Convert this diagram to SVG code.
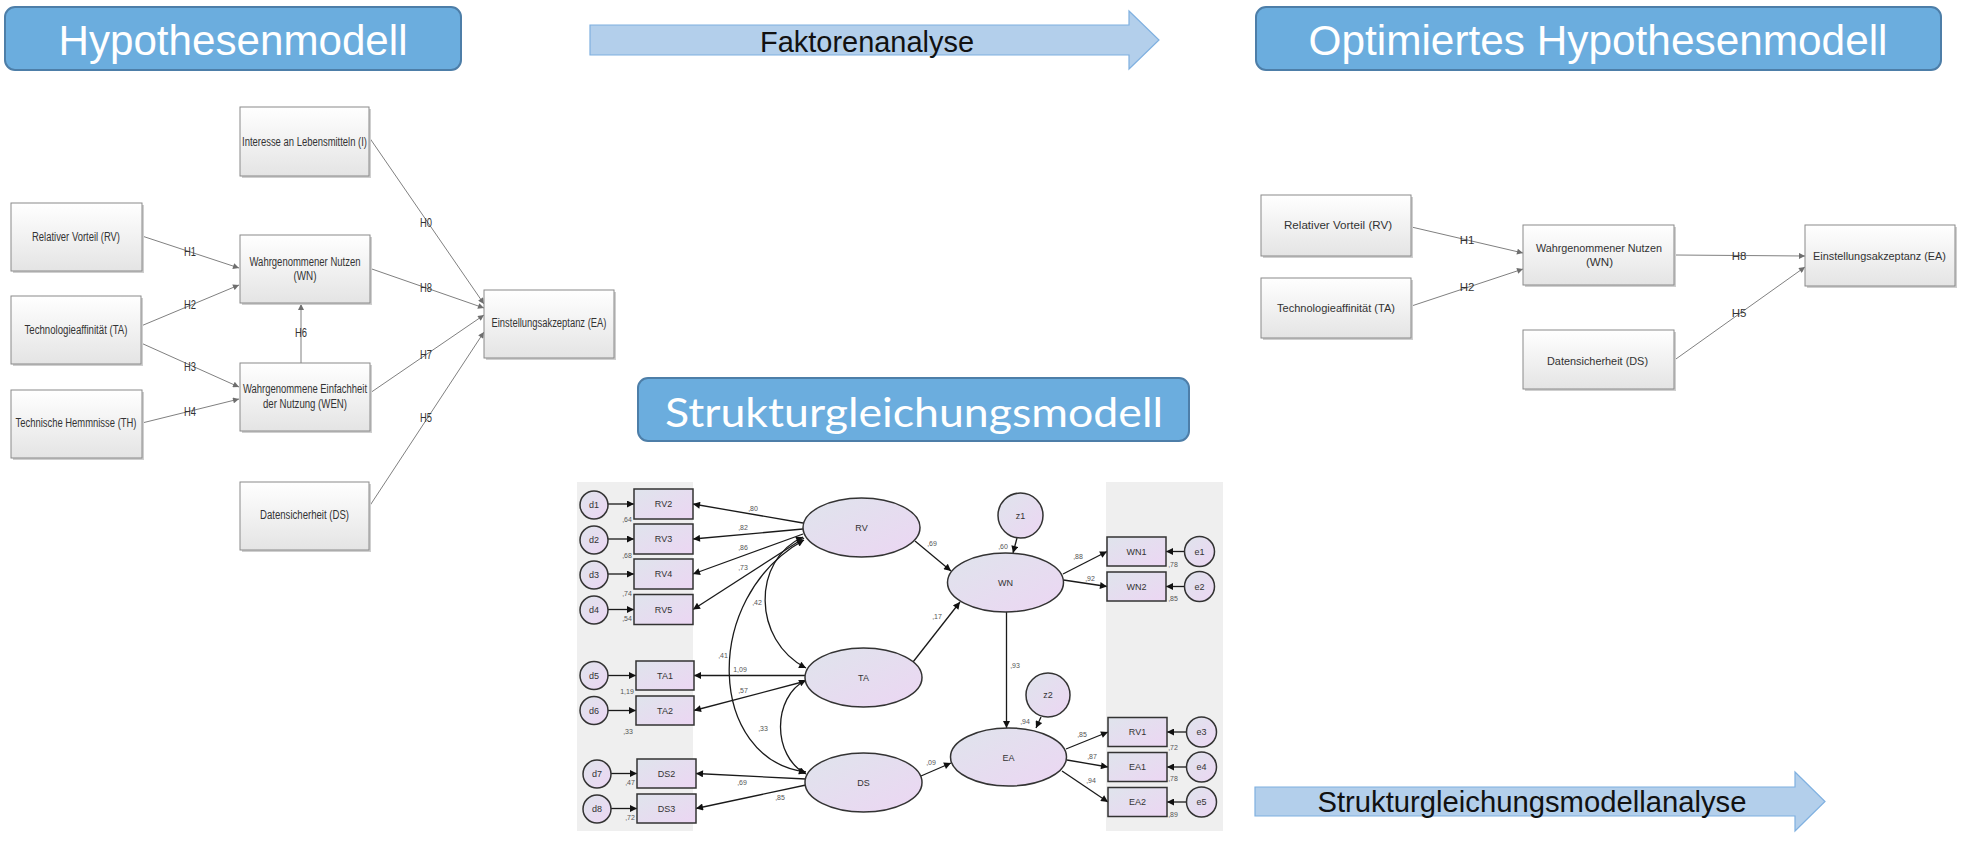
<svg xmlns="http://www.w3.org/2000/svg" width="1961" height="844" viewBox="0 0 1961 844">
<style>
.title{fill:#6badde;stroke:#4d7ea8;stroke-width:2}
.ttxt{font-family:"Liberation Sans",Arial,sans-serif;font-size:42px;fill:#ffffff;text-anchor:middle}
.ttxt2{font-family:Lato,"Open Sans",sans-serif;font-size:41px;fill:#ffffff;text-anchor:middle}
.barrow{fill:#b3cfeb;stroke:#7fb0e0;stroke-width:1.2}
.atxt{font-family:"Liberation Sans",Arial,sans-serif;font-size:29px;fill:#111;text-anchor:middle}
.hbox{fill:url(#hg);stroke:#8a8a8a;stroke-width:1}
.hsh{fill:#cfcfcf}
.htxt{font-family:"Liberation Sans",Arial,sans-serif;font-size:12px;fill:#333;text-anchor:middle}
.otxt{font-family:"Liberation Sans",Arial,sans-serif;font-size:11.5px;fill:#333;text-anchor:middle}
.hedge{stroke:#808080;stroke-width:1;fill:none;marker-end:url(#hArr)}
.panel{fill:#efefef}
.sem{fill:url(#sg);stroke:#333;stroke-width:1.5}
.sedge{stroke:#1a1a1a;stroke-width:1.3;fill:none;marker-end:url(#sArr)}
.scov{stroke:#1a1a1a;stroke-width:1.3;fill:none;marker-end:url(#sArr);marker-start:url(#sArr)}
.stxt{font-family:"Liberation Sans",Arial,sans-serif;font-size:9px;fill:#333;text-anchor:middle}
.ntxt{font-family:"Liberation Sans",Arial,sans-serif;font-size:7px;fill:#555;text-anchor:middle}
</style>
<defs>
<linearGradient id="hg" x1="0" y1="0" x2="0" y2="1"><stop offset="0" stop-color="#ffffff"/><stop offset="1" stop-color="#e4e4e4"/></linearGradient>
<linearGradient id="sg" x1="0" y1="0" x2="1" y2="1"><stop offset="0" stop-color="#dfe4ec"/><stop offset="1" stop-color="#ecd6f3"/></linearGradient>
<marker id="hArr" viewBox="0 0 10 10" refX="10" refY="5" markerWidth="7" markerHeight="6" markerUnits="userSpaceOnUse" orient="auto"><path d="M0,0 L10,5 L0,10 z" fill="#6e6e6e"/></marker>
<marker id="sArr" viewBox="0 0 10 10" refX="10" refY="5" markerWidth="10" markerHeight="7" markerUnits="userSpaceOnUse" orient="auto-start-reverse"><path d="M0,0 L10,5 L0,10 z" fill="#111"/></marker>
</defs>
<rect width="1961" height="844" fill="#ffffff"/>

<!-- Titles -->
<g id="title-hypothesenmodell"><rect class="title" x="5" y="7" width="456" height="63" rx="10"/><text class="ttxt" x="233" y="55" textLength="349" lengthAdjust="spacingAndGlyphs">Hypothesenmodell</text></g>
<g id="title-optimiert"><rect class="title" x="1256" y="7" width="685" height="63" rx="10"/><text class="ttxt" x="1598" y="55" textLength="579" lengthAdjust="spacingAndGlyphs">Optimiertes Hypothesenmodell</text></g>
<g id="title-sem"><rect class="title" x="638" y="378" width="551" height="63" rx="10"/><text class="ttxt2" x="914" y="427" textLength="498" lengthAdjust="spacingAndGlyphs">Strukturgleichungsmodell</text></g>

<!-- Block arrows -->
<g id="arrow-faktorenanalyse"><polygon class="barrow" points="590,25 1129,25 1129,11 1159,40 1129,69 1129,55 590,55"/><text class="atxt" x="867" y="52" textLength="214" lengthAdjust="spacingAndGlyphs">Faktorenanalyse</text></g>
<g id="arrow-sem-analyse"><polygon class="barrow" points="1255,787 1795,787 1795,772 1825,801.5 1795,831 1795,816 1255,816"/><text class="atxt" x="1532" y="812" textLength="429" lengthAdjust="spacingAndGlyphs">Strukturgleichungsmodellanalyse</text></g>

<!-- Hypothesenmodell connectors -->
<g id="h-connectors">
<line class="hedge" x1="142" y1="236" x2="239" y2="268"/>
<line class="hedge" x1="141" y1="326" x2="239" y2="285"/>
<line class="hedge" x1="141" y1="343" x2="239" y2="387"/>
<line class="hedge" x1="142" y1="423" x2="239" y2="399"/>
<line class="hedge" x1="301" y1="363" x2="301" y2="304"/>
<line class="hedge" x1="369" y1="137" x2="484" y2="304"/>
<line class="hedge" x1="369" y1="268" x2="484" y2="308"/>
<line class="hedge" x1="370" y1="393" x2="484" y2="315"/>
<line class="hedge" x1="369" y1="507" x2="484" y2="332"/>
<text class="htxt" x="190" y="256" textLength="12" lengthAdjust="spacingAndGlyphs">H1</text>
<text class="htxt" x="190" y="309" textLength="12" lengthAdjust="spacingAndGlyphs">H2</text>
<text class="htxt" x="190" y="371" textLength="12" lengthAdjust="spacingAndGlyphs">H3</text>
<text class="htxt" x="190" y="416" textLength="12" lengthAdjust="spacingAndGlyphs">H4</text>
<text class="htxt" x="301" y="337" textLength="12" lengthAdjust="spacingAndGlyphs">H6</text>
<text class="htxt" x="426" y="227" textLength="12" lengthAdjust="spacingAndGlyphs">H0</text>
<text class="htxt" x="426" y="292" textLength="12" lengthAdjust="spacingAndGlyphs">H8</text>
<text class="htxt" x="426" y="359" textLength="12" lengthAdjust="spacingAndGlyphs">H7</text>
<text class="htxt" x="426" y="422" textLength="12" lengthAdjust="spacingAndGlyphs">H5</text>
</g>

<!-- Hypothesenmodell nodes -->
<g id="h-I"><rect class="hsh" x="242" y="109" width="129" height="69"/><rect class="hbox" x="240" y="107" width="129" height="69"/><text class="htxt" x="304.5" y="146" textLength="125" lengthAdjust="spacingAndGlyphs">Interesse an Lebensmitteln (I)</text></g>
<g id="h-RV"><rect class="hsh" x="13" y="205" width="131" height="68"/><rect class="hbox" x="11" y="203" width="131" height="68"/><text class="htxt" x="76" y="241" textLength="88" lengthAdjust="spacingAndGlyphs">Relativer Vorteil (RV)</text></g>
<g id="h-WN"><rect class="hsh" x="242" y="237" width="130" height="68"/><rect class="hbox" x="240" y="235" width="130" height="68"/><text class="htxt" x="305" y="266" textLength="111" lengthAdjust="spacingAndGlyphs">Wahrgenommener Nutzen</text><text class="htxt" x="305" y="280" textLength="23" lengthAdjust="spacingAndGlyphs">(WN)</text></g>
<g id="h-TA"><rect class="hsh" x="13" y="298" width="130" height="68"/><rect class="hbox" x="11" y="296" width="130" height="68"/><text class="htxt" x="76" y="334" textLength="103" lengthAdjust="spacingAndGlyphs">Technologieaffinität (TA)</text></g>
<g id="h-WEN"><rect class="hsh" x="242" y="365" width="130" height="68"/><rect class="hbox" x="240" y="363" width="130" height="68"/><text class="htxt" x="305" y="393" textLength="124" lengthAdjust="spacingAndGlyphs">Wahrgenommene Einfachheit</text><text class="htxt" x="305" y="408" textLength="84" lengthAdjust="spacingAndGlyphs">der Nutzung (WEN)</text></g>
<g id="h-TH"><rect class="hsh" x="13" y="392" width="131" height="68"/><rect class="hbox" x="11" y="390" width="131" height="68"/><text class="htxt" x="76" y="427" textLength="121" lengthAdjust="spacingAndGlyphs">Technische Hemmnisse (TH)</text></g>
<g id="h-DS"><rect class="hsh" x="242" y="484" width="129" height="68"/><rect class="hbox" x="240" y="482" width="129" height="68"/><text class="htxt" x="304.5" y="519" textLength="89" lengthAdjust="spacingAndGlyphs">Datensicherheit (DS)</text></g>
<g id="h-EA"><rect class="hsh" x="486" y="292" width="130" height="68"/><rect class="hbox" x="484" y="290" width="130" height="68"/><text class="htxt" x="549" y="327" textLength="115" lengthAdjust="spacingAndGlyphs">Einstellungsakzeptanz (EA)</text></g>

<!-- Optimiertes Hypothesenmodell connectors -->
<g id="o-connectors">
<line class="hedge" x1="1411.5" y1="227" x2="1523" y2="253"/>
<line class="hedge" x1="1411.5" y1="306" x2="1523" y2="269"/>
<line class="hedge" x1="1674.5" y1="255" x2="1805" y2="256"/>
<line class="hedge" x1="1674.5" y1="360" x2="1805" y2="267"/>
<text class="otxt" x="1467" y="244">H1</text>
<text class="otxt" x="1467" y="291">H2</text>
<text class="otxt" x="1739" y="260">H8</text>
<text class="otxt" x="1739" y="317">H5</text>
</g>

<!-- Optimiertes nodes -->
<g id="o-RV"><rect class="hsh" x="1263" y="197" width="150" height="61"/><rect class="hbox" x="1261" y="195" width="150" height="61"/><text class="otxt" x="1338" y="229" textLength="108" lengthAdjust="spacingAndGlyphs">Relativer Vorteil (RV)</text></g>
<g id="o-TA"><rect class="hsh" x="1263" y="280" width="150" height="60"/><rect class="hbox" x="1261" y="278" width="150" height="60"/><text class="otxt" x="1336" y="312" textLength="118" lengthAdjust="spacingAndGlyphs">Technologieaffinität (TA)</text></g>
<g id="o-WN"><rect class="hsh" x="1525" y="227" width="151" height="60"/><rect class="hbox" x="1523" y="225" width="151" height="60"/><text class="otxt" x="1599" y="252" textLength="126" lengthAdjust="spacingAndGlyphs">Wahrgenommener Nutzen</text><text class="otxt" x="1599.5" y="266" textLength="27" lengthAdjust="spacingAndGlyphs">(WN)</text></g>
<g id="o-EA"><rect class="hsh" x="1807" y="227" width="150" height="61"/><rect class="hbox" x="1805" y="225" width="150" height="61"/><text class="otxt" x="1879.5" y="260" textLength="133" lengthAdjust="spacingAndGlyphs">Einstellungsakzeptanz (EA)</text></g>
<g id="o-DS"><rect class="hsh" x="1525" y="332" width="151" height="59"/><rect class="hbox" x="1523" y="330" width="151" height="59"/><text class="otxt" x="1597.5" y="365" textLength="101" lengthAdjust="spacingAndGlyphs">Datensicherheit (DS)</text></g>

<!-- SEM panels -->
<rect class="panel" x="577" y="482" width="116" height="349"/>
<rect class="panel" x="1106" y="482" width="117" height="349"/>

<!-- SEM connectors -->
<g id="sem-connectors">
<line class="sedge" x1="608" y1="504" x2="634" y2="504"/>
<line class="sedge" x1="608" y1="539" x2="634" y2="539"/>
<line class="sedge" x1="608" y1="574" x2="634" y2="574"/>
<line class="sedge" x1="608" y1="609.5" x2="634" y2="609.5"/>
<line class="sedge" x1="608" y1="675.5" x2="636" y2="675.5"/>
<line class="sedge" x1="608" y1="710.5" x2="636" y2="710.5"/>
<line class="sedge" x1="611" y1="773.5" x2="637" y2="773.5"/>
<line class="sedge" x1="611" y1="808.5" x2="637" y2="808.5"/>
<line class="sedge" x1="803" y1="523" x2="693" y2="504"/>
<line class="sedge" x1="803" y1="529" x2="693" y2="539"/>
<line class="sedge" x1="803" y1="534" x2="693" y2="574"/>
<line class="sedge" x1="804" y1="538" x2="693" y2="609.5"/>
<line class="sedge" x1="805" y1="675.5" x2="694" y2="675.5"/>
<line class="sedge" x1="806" y1="681" x2="694" y2="710.5"/>
<line class="sedge" x1="806" y1="779" x2="696" y2="773.5"/>
<line class="sedge" x1="806" y1="785" x2="696" y2="808.5"/>
<path class="scov" d="M803,537 C752,560 752,640 806,668"/>
<path class="scov" d="M804,540 C700,598 708,760 806,772"/>
<path class="scov" d="M806,680 C772,697 772,756 806,774"/>
<line class="sedge" x1="915" y1="541" x2="951" y2="571"/>
<line class="sedge" x1="913" y1="662" x2="960" y2="602"/>
<line class="sedge" x1="1006.5" y1="612" x2="1006.5" y2="728"/>
<line class="sedge" x1="921" y1="776" x2="951" y2="763"/>
<line class="sedge" x1="1017" y1="538" x2="1013" y2="553"/>
<line class="sedge" x1="1041" y1="717" x2="1036" y2="728"/>
<line class="sedge" x1="1063" y1="574" x2="1107" y2="551.5"/>
<line class="sedge" x1="1063.5" y1="580" x2="1107" y2="586.5"/>
<line class="sedge" x1="1066" y1="749" x2="1108" y2="732"/>
<line class="sedge" x1="1067" y1="760" x2="1108" y2="767"/>
<line class="sedge" x1="1062" y1="771" x2="1108" y2="802"/>
<line class="sedge" x1="1184.5" y1="551.5" x2="1166" y2="551.5"/>
<line class="sedge" x1="1184.5" y1="586.5" x2="1166" y2="586.5"/>
<line class="sedge" x1="1186.5" y1="732" x2="1167" y2="732"/>
<line class="sedge" x1="1186.5" y1="767" x2="1167" y2="767"/>
<line class="sedge" x1="1186.5" y1="802" x2="1167" y2="802"/>
<text class="ntxt" x="753" y="511">,80</text>
<text class="ntxt" x="743" y="530">,82</text>
<text class="ntxt" x="743" y="550">,86</text>
<text class="ntxt" x="743" y="570">,73</text>
<text class="ntxt" x="757" y="605">,42</text>
<text class="ntxt" x="723" y="658">,41</text>
<text class="ntxt" x="740" y="672">1,09</text>
<text class="ntxt" x="743" y="693">,57</text>
<text class="ntxt" x="763" y="731">,33</text>
<text class="ntxt" x="742" y="785">,69</text>
<text class="ntxt" x="780" y="800">,85</text>
<text class="ntxt" x="932" y="546">,69</text>
<text class="ntxt" x="937" y="619">,17</text>
<text class="ntxt" x="1015" y="668">,93</text>
<text class="ntxt" x="931" y="765">,09</text>
<text class="ntxt" x="1078" y="559">,88</text>
<text class="ntxt" x="1090" y="581">,92</text>
<text class="ntxt" x="1082" y="737">,85</text>
<text class="ntxt" x="1092" y="759">,87</text>
<text class="ntxt" x="1091" y="783">,94</text>
</g>

<!-- SEM nodes: error terms -->
<g id="d1"><circle class="sem" cx="594" cy="505" r="14"/><text class="stxt" x="594" y="508">d1</text></g>
<g id="d2"><circle class="sem" cx="594" cy="540" r="14"/><text class="stxt" x="594" y="543">d2</text></g>
<g id="d3"><circle class="sem" cx="594" cy="575" r="14"/><text class="stxt" x="594" y="578">d3</text></g>
<g id="d4"><circle class="sem" cx="594" cy="610" r="14"/><text class="stxt" x="594" y="613">d4</text></g>
<g id="d5"><circle class="sem" cx="594" cy="675.5" r="14"/><text class="stxt" x="594" y="678.5">d5</text></g>
<g id="d6"><circle class="sem" cx="594" cy="710.5" r="14"/><text class="stxt" x="594" y="713.5">d6</text></g>
<g id="d7"><circle class="sem" cx="597" cy="774" r="14"/><text class="stxt" x="597" y="777">d7</text></g>
<g id="d8"><circle class="sem" cx="597" cy="809" r="14"/><text class="stxt" x="597" y="812">d8</text></g>

<!-- SEM indicator boxes left -->
<g id="RV2"><rect class="sem" x="634" y="489" width="59" height="30"/><text class="stxt" x="663.5" y="507">RV2</text><text class="ntxt" x="627" y="522">,64</text></g>
<g id="RV3"><rect class="sem" x="634" y="524" width="59" height="30"/><text class="stxt" x="663.5" y="542">RV3</text><text class="ntxt" x="627" y="558">,68</text></g>
<g id="RV4"><rect class="sem" x="634" y="559" width="59" height="30"/><text class="stxt" x="663.5" y="577">RV4</text><text class="ntxt" x="627" y="596">,74</text></g>
<g id="RV5"><rect class="sem" x="634" y="594.5" width="59" height="30"/><text class="stxt" x="663.5" y="612.5">RV5</text><text class="ntxt" x="627" y="621">,54</text></g>
<g id="TA1"><rect class="sem" x="636" y="661" width="58" height="29"/><text class="stxt" x="665" y="678.5">TA1</text><text class="ntxt" x="627" y="694">1,19</text></g>
<g id="TA2"><rect class="sem" x="636" y="696" width="58" height="29"/><text class="stxt" x="665" y="713.5">TA2</text><text class="ntxt" x="628" y="734">,33</text></g>
<g id="DS2"><rect class="sem" x="637" y="759" width="59" height="29"/><text class="stxt" x="666.5" y="776.5">DS2</text><text class="ntxt" x="630" y="785">,47</text></g>
<g id="DS3"><rect class="sem" x="637" y="794" width="59" height="29"/><text class="stxt" x="666.5" y="811.5">DS3</text><text class="ntxt" x="630" y="820">,72</text></g>

<!-- SEM latent variables -->
<g id="RV"><ellipse class="sem" cx="861.5" cy="527.5" rx="58.5" ry="29.5"/><text class="stxt" x="861.5" y="531">RV</text></g>
<g id="TA"><ellipse class="sem" cx="863.5" cy="677.5" rx="58.5" ry="29.5"/><text class="stxt" x="863.5" y="681">TA</text></g>
<g id="DS"><ellipse class="sem" cx="863.5" cy="782.5" rx="58.5" ry="29.5"/><text class="stxt" x="863.5" y="786">DS</text></g>
<g id="WN"><ellipse class="sem" cx="1005.5" cy="582.5" rx="58" ry="29.5"/><text class="stxt" x="1005.5" y="586">WN</text><text class="ntxt" x="1003" y="549">,60</text></g>
<g id="EA"><ellipse class="sem" cx="1008.5" cy="757" rx="58" ry="29"/><text class="stxt" x="1008.5" y="760.5">EA</text><text class="ntxt" x="1025" y="724">,94</text></g>
<g id="z1"><circle class="sem" cx="1020.5" cy="515.5" r="22.5"/><text class="stxt" x="1020.5" y="518.5">z1</text></g>
<g id="z2"><circle class="sem" cx="1048" cy="695" r="22"/><text class="stxt" x="1048" y="698">z2</text></g>

<!-- SEM indicator boxes right -->
<g id="WN1"><rect class="sem" x="1107" y="537" width="59" height="29"/><text class="stxt" x="1136.5" y="554.5">WN1</text><text class="ntxt" x="1173" y="567">,78</text></g>
<g id="WN2"><rect class="sem" x="1107" y="572" width="59" height="29"/><text class="stxt" x="1136.5" y="589.5">WN2</text><text class="ntxt" x="1173" y="601">,85</text></g>
<g id="RV1"><rect class="sem" x="1108" y="717.5" width="59" height="29"/><text class="stxt" x="1137.5" y="735">RV1</text><text class="ntxt" x="1173" y="750">,72</text></g>
<g id="EA1"><rect class="sem" x="1108" y="752.5" width="59" height="29"/><text class="stxt" x="1137.5" y="770">EA1</text><text class="ntxt" x="1173" y="781">,78</text></g>
<g id="EA2"><rect class="sem" x="1108" y="787.5" width="59" height="29"/><text class="stxt" x="1137.5" y="805">EA2</text><text class="ntxt" x="1173" y="817">,89</text></g>
<g id="e1"><circle class="sem" cx="1199.5" cy="551.5" r="15"/><text class="stxt" x="1199.5" y="554.5">e1</text></g>
<g id="e2"><circle class="sem" cx="1199.5" cy="586.5" r="15"/><text class="stxt" x="1199.5" y="589.5">e2</text></g>
<g id="e3"><circle class="sem" cx="1201.5" cy="732" r="15"/><text class="stxt" x="1201.5" y="735">e3</text></g>
<g id="e4"><circle class="sem" cx="1201.5" cy="767" r="15"/><text class="stxt" x="1201.5" y="770">e4</text></g>
<g id="e5"><circle class="sem" cx="1201.5" cy="802" r="15"/><text class="stxt" x="1201.5" y="805">e5</text></g>
</svg>
